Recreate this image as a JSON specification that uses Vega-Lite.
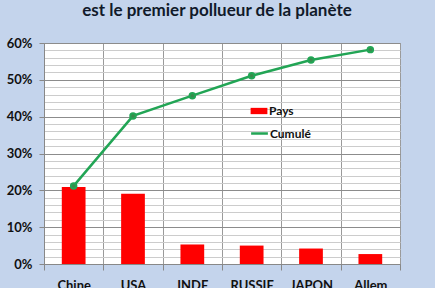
{
  "$schema": "https://vega.github.io/schema/vega-lite/v6.json",
  "width": 356,
  "height": 221,
  "autosize": {"type": "none"},
  "padding": {"left": 44, "top": 43, "right": 35, "bottom": 24},
  "background": "#c4d4ec",
  "view": {"fill": "white", "stroke": "#9a9a9a"},
  "config": {"font": "Lato"},
  "title": {
    "text": "est le premier pollueur de la planète",
    "fontSize": 17,
    "fontWeight": "bold",
    "color": "#111a2a",
    "font": "Lato",
    "anchor": "middle",
    "frame": "group",
    "dx": -5,
    "offset": 4,
    "baseline": "alphabetic"
  },
  "data": {
    "values": [
      {"pays": "Chine", "part": 0.209, "cumul": 0.212},
      {"pays": "USA", "part": 0.191, "cumul": 0.402},
      {"pays": "INDE", "part": 0.053, "cumul": 0.457},
      {"pays": "RUSSIE", "part": 0.050, "cumul": 0.511},
      {"pays": "JAPON", "part": 0.042, "cumul": 0.554},
      {"pays": "Allem", "part": 0.027, "cumul": 0.582}
    ]
  },
  "encoding": {
    "x": {
      "field": "pays",
      "type": "nominal",
      "sort": null,
      "scale": {"paddingInner": 0, "paddingOuter": 0},
      "axis": {
        "title": null,
        "labelAngle": 0,
        "tickBand": "extent",
        "grid": true,
        "gridColor": "#9a9a9a",
        "domainColor": "#888888",
        "tickColor": "#888888",
        "tickSize": 6,
        "labelPadding": 9,
        "labelFontSize": 13,
        "labelFontWeight": "bold",
        "labelColor": "#111111",
        "labelFont": "Lato"
      }
    },
    "y": {
      "field": "part",
      "type": "quantitative",
      "scale": {"domain": [0, 0.6], "nice": false},
      "axis": {
        "title": null,
        "format": ".0%",
        "values": [0, 0.02, 0.04, 0.06, 0.08, 0.1, 0.12, 0.14, 0.16, 0.18, 0.2, 0.22, 0.24, 0.26, 0.28, 0.3, 0.32, 0.34, 0.36, 0.38, 0.4, 0.42, 0.44, 0.46, 0.48, 0.5, 0.52, 0.54, 0.56, 0.58, 0.6],
        "labelExpr": "round(datum.value*100) % 10 === 0 ? datum.label : ''",
        "gridColor": {"condition": {"test": "round(datum.value*100) % 10 === 0", "value": "#8c8c8c"}, "value": "#cccccc"},
        "tickOpacity": {"condition": {"test": "round(datum.value*100) % 10 === 0", "value": 1}, "value": 0},
        "tickColor": "#888888",
        "domainColor": "#888888",
        "tickSize": 5,
        "labelPadding": 7,
        "labelFontSize": 13,
        "labelFontWeight": "bold",
        "labelColor": "#111111",
        "labelFont": "Lato",
        "labelOverlap": false
      }
    }
  },
  "layer": [
    {
      "mark": {"type": "bar", "width": {"band": 0.4}},
      "encoding": {
        "fill": {
          "datum": "Pays",
          "scale": {"domain": ["Pays"], "range": ["#ff0000"]},
          "legend": {
            "title": null,
            "orient": "none",
            "legendX": 209,
            "legendY": 62,
            "symbolType": "M-1.6,-0.6H1.6V0.6H-1.6Z",
            "symbolSize": 110,
            "symbolStrokeWidth": 0,
            "labelFontSize": 12,
            "labelFontWeight": "bold",
            "labelColor": "#111111",
            "labelFont": "Lato",
            "labelOffset": 4
          }
        }
      }
    },
    {
      "mark": {"type": "line", "strokeWidth": 2.5, "point": {"filled": true, "size": 30, "color": "#3a8a4c"}},
      "encoding": {
        "y": {"field": "cumul", "type": "quantitative"},
        "stroke": {
          "datum": "Cumulé",
          "scale": {"domain": ["Cumulé"], "range": ["#22a555"]},
          "legend": {
            "title": null,
            "orient": "none",
            "legendX": 209,
            "legendY": 84,
            "symbolType": "M-1.6,0H1.6",
            "symbolSize": 110,
            "symbolStrokeWidth": 2.5,
            "labelFontSize": 12,
            "labelFontWeight": "bold",
            "labelColor": "#111111",
            "labelFont": "Lato",
            "labelOffset": 4
          }
        }
      }
    }
  ]
}
